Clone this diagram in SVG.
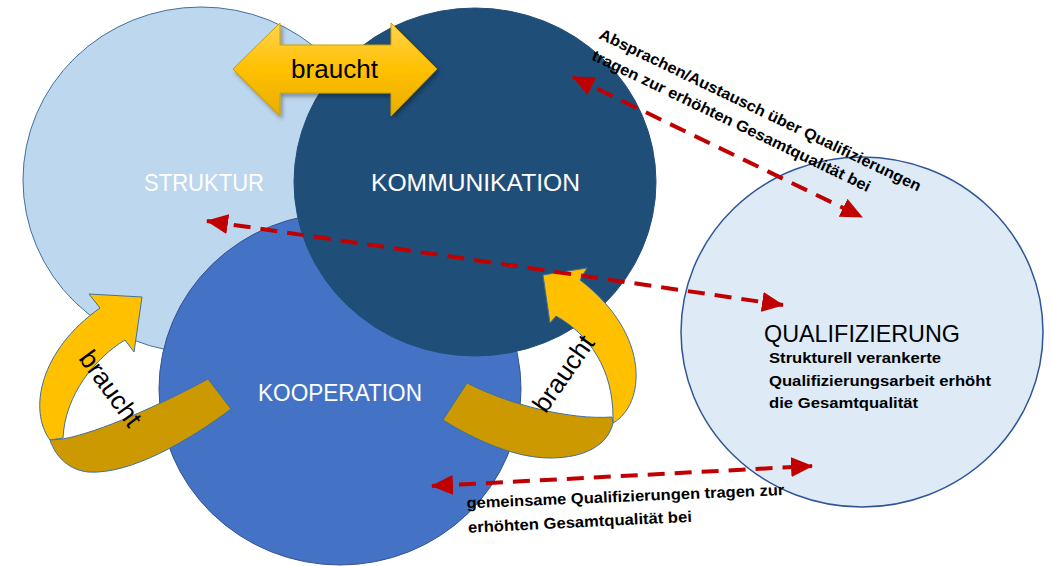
<svg xmlns="http://www.w3.org/2000/svg" width="1051" height="566" viewBox="0 0 1051 566">
<style>
.lbl{font-family:"Liberation Sans",Arial,sans-serif;font-size:24px;fill:#ffffff}
.dark{fill:#000000}
.note{font-family:"Liberation Sans",Arial,sans-serif;font-size:15.5px;font-weight:bold;fill:#000000}
.br{font-family:"Liberation Sans",Arial,sans-serif;font-size:26px;fill:#000000}
.dash{fill:none;stroke:#C00000;stroke-width:4;stroke-dasharray:17 10;marker-start:url(#ah);marker-end:url(#ah)}
.front{fill:#FFC000;stroke:#41719C;stroke-width:1}
.back{fill:#CC9A00;stroke:#41719C;stroke-width:1}
</style>
<defs>
<marker id="ah" viewBox="0 0 22 20" refX="21" refY="10" markerWidth="22" markerHeight="20" markerUnits="userSpaceOnUse" orient="auto-start-reverse">
<path d="M0,0 L22,10 L0,20 Z" fill="#C00000"/>
</marker>
<linearGradient id="gold" x1="0" y1="0" x2="0" y2="1">
<stop offset="0" stop-color="#FFD44F"/>
<stop offset="0.5" stop-color="#FFC000"/>
<stop offset="1" stop-color="#E8AE00"/>
</linearGradient>
<filter id="sh" x="-20%" y="-20%" width="140%" height="150%">
<feDropShadow dx="2" dy="3" stdDeviation="2" flood-color="#000" flood-opacity="0.35"/>
</filter>
</defs>
<rect width="1051" height="566" fill="#ffffff"/>
<g id="struktur">
<ellipse cx="201" cy="180" rx="178" ry="173" fill="#BDD7EE" stroke="#41719C" stroke-width="1"/>
<text class="lbl" x="144" y="191" textLength="120" lengthAdjust="spacingAndGlyphs">STRUKTUR</text>
</g>
<g id="kooperation">
<ellipse cx="340" cy="389" rx="181" ry="176" fill="#4472C4" stroke="#2F528F" stroke-width="1"/>
<text class="lbl" x="258" y="401" textLength="164" lengthAdjust="spacingAndGlyphs">KOOPERATION</text>
</g>
<g id="kommunikation">
<ellipse cx="475" cy="182" rx="181" ry="174" fill="#1F4E79" stroke="#1F4E79" stroke-width="1"/>
<text class="lbl" x="371" y="191" textLength="209" lengthAdjust="spacingAndGlyphs">KOMMUNIKATION</text>
</g>
<g id="qualifizierung">
<ellipse cx="862" cy="332" rx="181" ry="175" fill="#DEEBF7" stroke="#2F5597" stroke-width="1.5"/>
<text class="lbl dark" x="764" y="342" textLength="196" lengthAdjust="spacingAndGlyphs">QUALIFIZIERUNG</text>
<text class="note" x="769" y="363" textLength="172" lengthAdjust="spacingAndGlyphs">Strukturell verankerte</text>
<text class="note" x="769" y="385.5" textLength="222" lengthAdjust="spacingAndGlyphs">Qualifizierungsarbeit erhöht</text>
<text class="note" x="769" y="408" textLength="149" lengthAdjust="spacingAndGlyphs">die Gesamtqualität</text>
</g>
<g id="connectors">
<g id="braucht-top">
<polygon points="233,69 280,23 280,45 391,45 391,23 437,69 391,116 391,93 280,93 280,116" fill="url(#gold)" stroke="#C9A000" stroke-width="1" filter="url(#sh)"/>
<text class="br" x="291" y="78" textLength="87" lengthAdjust="spacingAndGlyphs">braucht</text>
</g>
<g id="braucht-left">
<path class="front" d="M100,308 L89,294 L142,297 L134,352 L125,340 C95,358 65,395 63,438 L50,440 C28,410 40,350 100,308 Z"/>
<path class="back" d="M63,439 C100,432 160,405 208,379 L231,409 C190,440 130,475 88,472 C70,470 56,458 50,440 Z"/>
<text class="br" x="0" y="0" text-anchor="middle" textLength="87" lengthAdjust="spacingAndGlyphs" transform="translate(103.5,393.7) rotate(54)">braucht</text>
</g>
<g id="braucht-right">
<path class="front" d="M580,280 L587,268 L543,275 L550,323 L556,316 C590,335 613,370 613,417 L613,423 C645,405 652,335 580,280 Z"/>
<path class="back" d="M467,383 C510,405 570,420 612,417 L613,423 C608,445 585,458 550,458 C515,458 475,440 443,420 Z"/>
<text class="br" x="0" y="0" text-anchor="middle" textLength="87" lengthAdjust="spacingAndGlyphs" transform="translate(570.6,378.6) rotate(-55)">braucht</text>
</g>
<g id="dash-top">
<line class="dash" x1="573" y1="77" x2="862" y2="217"/>
<text class="note" x="0" y="0" textLength="355" lengthAdjust="spacingAndGlyphs" transform="translate(598,38) rotate(25.65)">Absprachen/Austausch über Qualifizierungen</text>
<text class="note" x="0" y="0" textLength="307" lengthAdjust="spacingAndGlyphs" transform="translate(590.7,59.3) rotate(25.65)">tragen zur erhöhten Gesamtqualität bei</text>
</g>
<g id="dash-mid">
<line class="dash" x1="207" y1="221" x2="783" y2="305"/>
</g>
<g id="dash-bottom">
<line class="dash" x1="432" y1="486" x2="812" y2="466"/>
<text class="note" x="0" y="0" textLength="318" lengthAdjust="spacingAndGlyphs" transform="translate(466.7,508.3) rotate(-2.4)">gemeinsame Qualifizierungen tragen zur</text>
<text class="note" x="0" y="0" textLength="224" lengthAdjust="spacingAndGlyphs" transform="translate(468.3,532.7) rotate(-2.8)">erhöhten Gesamtqualität bei</text>
</g>
</g>
</svg>
